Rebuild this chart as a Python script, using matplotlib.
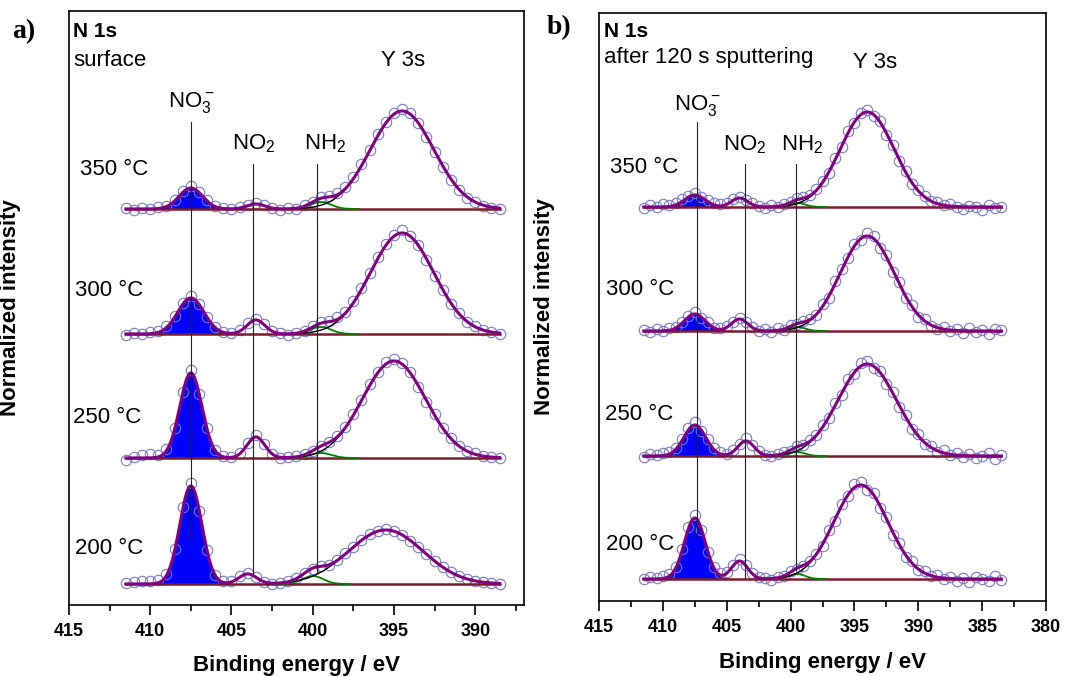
import numpy as np
import matplotlib.pyplot as plt
from matplotlib.ticker import MultipleLocator

plt.rcParams['font.family'] = ['Liberation Sans', 'DejaVu Sans']
plt.rcParams['mathtext.fontset'] = 'custom'
plt.rcParams['mathtext.rm'] = 'Liberation Sans'
plt.rcParams['mathtext.it'] = 'Liberation Sans:italic'
plt.rcParams['mathtext.bf'] = 'Liberation Sans:bold'

temps = ['200 °C', '250 °C', '300 °C', '350 °C']
ticks_a = [415, 410, 405, 400, 395, 390]
ticks_b = [415, 410, 405, 400, 395, 390, 385, 380]

# measured points, binding energy grid 0.5 eV (descending), baseline removed
be_a = np.arange(411.5, 388.4, -0.5)
be_b = np.arange(411.5, 383.4, -0.5)

a_200 = [1, 2, 3, 3, 4, 10, 35, 77, 101, 73, 34, 9, 3, 3, 8, 11, 7, 2, 0, 1, 3, 6, 11, 15,
         18, 19, 24, 31, 37, 44, 50, 53, 55, 53, 49, 43, 37, 30, 23, 17, 12, 8, 5, 3, 2, 1, 0]
a_250 = [-2, 1, 3, 4, 3, 9, 30, 66, 88, 64, 30, 8, 2, 1, 5, 15, 23, 14, 4, 0, 1, 2, 4, 7,
         12, 16, 22, 31, 44, 58, 74, 86, 96, 99, 95, 86, 71, 56, 44, 30, 20, 12, 7, 5, 2, 1, 0]
a_300 = [-1, 1, 0, 2, 3, 8, 18, 31, 38, 30, 17, 7, 2, 1, 4, 11, 15, 10, 3, 1, -1, 1, 3, 8,
         12, 13, 17, 22, 33, 46, 61, 77, 90, 99, 104, 98, 89, 74, 58, 44, 30, 21, 12, 8, 4, 2, 0]
a_350 = [1, -1, 1, 0, 2, 3, 9, 18, 23, 17, 9, 3, 1, 0, 2, 4, 6, 4, 1, -1, 1, 0, 4, 7,
         12, 13, 16, 22, 32, 45, 59, 75, 87, 96, 100, 96, 86, 72, 57, 42, 29, 19, 11, 7, 3, 1, 0]

b_200 = [0, 2, 1, 3, 5, 12, 30, 52, 64, 49, 27, 12, 6, 7, 14, 20, 14, 6, 2, 1,
         -1, 2, 3, 8, 10, 13, 18, 25, 33, 49, 58, 75, 83, 95, 97, 89, 86, 71, 62, 44,
         36, 22, 18, 9, 8, 3, 4, 0, 2, -2, 1, -3, 2, 0, -2, 3, -1]
b_250 = [-1, 2, 1, 3, 4, 8, 17, 28, 34, 25, 17, 8, 4, 2, 6, 12, 18, 11, 5, 1,
         0, 2, 4, 5, 10, 11, 16, 21, 31, 38, 53, 61, 77, 82, 93, 95, 88, 85, 72, 64,
         49, 41, 27, 22, 12, 10, 4, 6, 1, 3, -1, 2, -2, 0, 3, -3, 1]
b_300 = [1, -1, 2, 0, 3, 4, 9, 15, 19, 13, 9, 3, 3, 5, 9, 13, 9, 4, 0, 2,
         -1, 3, 1, 6, 7, 10, 12, 16, 27, 33, 50, 62, 73, 87, 91, 98, 95, 83, 76, 59,
         49, 33, 26, 14, 12, 5, 2, 4, 0, 2, -2, 3, -1, 1, -3, 2, 1]
b_350 = [-1, 2, 0, 3, 2, 4, 8, 11, 14, 10, 7, 4, 3, 4, 8, 10, 7, 4, 1, -1,
         2, 0, 3, 5, 9, 10, 12, 18, 26, 34, 49, 60, 76, 84, 94, 97, 91, 86, 72, 62,
         46, 36, 23, 17, 11, 6, 5, 2, 3, 0, -2, 1, 0, -3, 2, -1, 0]

offsets_a = [21, 147, 271, 396]
offsets_b = [22, 145, 270, 394]

# fitted components (centre eV, height, FWHM eV) for 200, 250, 300, 350 °C
no3_a = [(407.5, 98, 1.6), (407.5, 85, 1.6), (407.5, 36, 1.9), (407.5, 21, 1.7)]
no2_a = [(404.0, 10, 1.3), (403.5, 21, 1.3), (403.5, 14, 1.3), (403.5, 5, 1.3)]
nh2_a = [(400.0, 8, 1.5), (399.5, 5, 1.5), (399.5, 7, 1.5), (399.5, 7, 1.5)]
y3s_a = [(395.5, 54, 5.4), (395.0, 97, 4.6), (394.5, 101, 4.6), (394.5, 98, 4.6)]

no3_b = [(407.5, 61, 1.9), (407.5, 31, 2.0), (407.5, 17, 1.9), (407.5, 12, 1.9)]
no2_b = [(404.0, 18, 1.5), (403.5, 15, 1.5), (404.0, 12, 1.5), (404.0, 9, 1.5)]
nh2_b = [(399.5, 5, 1.5), (399.5, 4, 1.5), (399.5, 4, 1.5), (399.5, 4, 1.5)]
y3s_b = [(394.5, 94, 5.0), (394.0, 92, 5.4), (394.0, 95, 5.0), (394.0, 95, 5.0)]


def gauss(x, c, h, w):
    return h * np.exp(-4 * np.log(2) * (x - c) ** 2 / w ** 2)


def draw_panel(ax, be, spectra, offsets, no3, no2, nh2, y3s):
    e_hi, e_lo = be[0], be[-1]
    xf = np.linspace(e_hi, e_lo, 800)
    for k in range(4):
        off = offsets[k]
        c1 = gauss(xf, *no3[k])
        c2 = gauss(xf, *no2[k])
        c3 = gauss(xf, *nh2[k])
        c4 = gauss(xf, *y3s[k])
        env = c1 + c2 + c3 + c4
        m = c1 > 0.05
        ax.fill_between(xf[m], off, off + c1[m], facecolor='#0000ff',
                        edgecolor='#8b1a4a', lw=0.8, zorder=1)
        ax.plot(be, off + np.array(spectra[k]), 'o', ms=7.5, mfc='none',
                mec='#7878cc', mew=0.8, zorder=2)
        ax.plot([e_hi, e_lo], [off, off], color='#7b1c2c', lw=1.8, zorder=3)
        m3 = np.abs(xf - nh2[k][0]) < 2.3
        ax.plot(xf[m3], off + c3[m3], color='#008000', lw=1.3, zorder=3)
        m4 = c4 > 0.3
        ax.plot(xf[m4], off + c4[m4], color='black', lw=1.0, zorder=3)
        ax.plot(xf, off + env, color='#800080', lw=2.2, zorder=4)


def style_axes(ax, xlim, ylim, ticks):
    ax.set_xlim(*xlim)
    ax.set_ylim(*ylim)
    ax.set_yticks([])
    ax.set_xticks(ticks, [str(t) for t in ticks], fontweight='bold', fontsize=13)
    ax.xaxis.set_minor_locator(MultipleLocator(2.5))
    ax.tick_params(axis='x', which='major', direction='out', length=7, width=1.2, pad=6)
    ax.tick_params(axis='x', which='minor', direction='out', length=4, width=1.2)
    for sp in ax.spines.values():
        sp.set_linewidth(1.2)
    ax.set_xlabel('Binding energy / eV', fontsize=16, fontweight='bold')
    ax.set_ylabel('Normalized intensity', fontsize=16, fontweight='bold')


fig = plt.figure(figsize=(10.68, 6.77), dpi=100)
ax_a = fig.add_axes([0.0646, 0.1064, 0.4260, 0.8774])
ax_b = fig.add_axes([0.5609, 0.1123, 0.4185, 0.8685])

draw_panel(ax_a, be_a, [a_200, a_250, a_300, a_350], offsets_a, no3_a, no2_a, nh2_a, y3s_a)
draw_panel(ax_b, be_b, [b_200, b_250, b_300, b_350], offsets_b, no3_b, no2_b, nh2_b, y3s_b)

style_axes(ax_a, (415, 387), (0, 594), ticks_a)
style_axes(ax_b, (415, 380), (0, 588), ticks_b)
ax_a.xaxis.set_label_coords(0.5, -0.084)
ax_b.xaxis.set_label_coords(0.5, -0.087)
ax_a.yaxis.set_label_coords(-0.105, 0.5)
ax_b.yaxis.set_label_coords(-0.098, 0.5)

# reference lines for the nitrogen species
for x, y0, y1 in [(407.5, 65, 483), (403.7, 32, 441), (399.75, 33, 441)]:
    ax_a.plot([x, x], [y0, y1], color='#222222', lw=0.8, zorder=5)
for x, y0, y1 in [(407.3, 64, 479), (403.6, 23, 437), (399.6, 31, 437)]:
    ax_b.plot([x, x], [y0, y1], color='#222222', lw=0.8, zorder=5)

fs = 16
ax_a.text(0.009, 0.956, 'N 1s', transform=ax_a.transAxes, fontsize=15, fontweight='bold', va='baseline')
ax_a.text(0.009, 0.907, 'surface', transform=ax_a.transAxes, fontsize=fs, va='baseline')
ax_b.text(0.011, 0.959, 'N 1s', transform=ax_b.transAxes, fontsize=15, fontweight='bold', va='baseline')
ax_b.text(0.011, 0.915, 'after 120 s sputtering', transform=ax_b.transAxes, fontsize=fs, va='baseline')

ax_a.text(394.45, 539, 'Y 3s', fontsize=fs, ha='center', va='baseline')
ax_b.text(393.4, 533, 'Y 3s', fontsize=fs, ha='center', va='baseline')

ax_a.text(407.5, 498, r'NO$_3^-$', fontsize=fs, ha='center', va='baseline')
ax_a.text(403.64, 456, r'NO$_2$', fontsize=fs, ha='center', va='baseline')
ax_a.text(399.26, 456, r'NH$_2$', fontsize=fs, ha='center', va='baseline')
ax_b.text(407.3, 491, r'NO$_3^-$', fontsize=fs, ha='center', va='baseline')
ax_b.text(403.6, 451, r'NO$_2$', fontsize=fs, ha='center', va='baseline')
ax_b.text(399.06, 451, r'NH$_2$', fontsize=fs, ha='center', va='baseline')

temp_pos_a = [(414.6, 51), (414.75, 182), (414.6, 309), (414.3, 430)]
temp_pos_b = [(414.45, 51), (414.5, 181), (414.45, 306), (414.14, 428)]
for t, (x, y) in zip(temps, temp_pos_a):
    ax_a.text(x, y, t, fontsize=fs, ha='left', va='baseline')
for t, (x, y) in zip(temps, temp_pos_b):
    ax_b.text(x, y, t, fontsize=fs, ha='left', va='baseline')

fig.text(0.011, 0.944, 'a)', fontsize=20, fontweight='bold', family='Liberation Serif', va='baseline')
fig.text(0.512, 0.950, 'b)', fontsize=20, fontweight='bold', family='Liberation Serif', va='baseline')

fig.savefig('out.png', dpi=100)
